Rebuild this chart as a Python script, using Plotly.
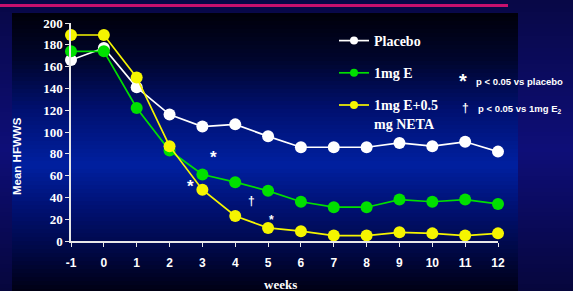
import plotly.graph_objects as go

weeks = [-1, 0, 1, 2, 3, 4, 5, 6, 7, 8, 9, 10, 11, 12]
week_labels = ["-1", "0", "1", "2", "3", "4", "5", "6", "7", "8", "9", "10", "11", "12"]
placebo = [166, 177, 141, 116, 105, 107, 96, 86, 86, 86, 90, 87, 91, 82]
e1mg = [174, 174, 122, 83, 61, 54, 46, 36, 31, 31, 38, 36, 38, 34]
e1mg_neta = [189, 189, 150, 87, 47, 23, 12, 9, 5, 5, 8, 7, 5, 7]
y_ticks = [0, 20, 40, 60, 80, 100, 120, 140, 160, 180, 200]

W, H = 573, 291
L, R, T, B = 71, 498, 23, 241

def px(x):
    return (x - L) / (R - L)

def py(y):
    return (B - y) / (B - T)

def lerp_color(stops, y):
    for (y0, c0), (y1, c1) in zip(stops, stops[1:]):
        if y0 <= y <= y1:
            t = (y - y0) / (y1 - y0) if y1 > y0 else 0
            c = [round(a + (b - a) * t) for a, b in zip(c0, c1)]
            return "rgb(%d,%d,%d)" % tuple(c)
    c = stops[-1][1]
    return "rgb(%d,%d,%d)" % tuple(c)

outer_stops = [(0, (8, 8, 70)), (150, (14, 14, 120)), (291, (6, 6, 60))]
panel_stops = [(13, (0, 0, 10)), (60, (0, 5, 45)), (110, (0, 16, 112)),
               (165, (0, 32, 160)), (210, (0, 16, 112)), (250, (0, 8, 70)), (291, (0, 0, 20))]

shapes = []
step = 4
for y0 in range(0, H, step):
    y1 = y0 + step
    shapes.append(dict(type="rect", xref="paper", yref="paper", layer="below",
                       x0=px(0), x1=px(W), y0=py(y1), y1=py(y0),
                       fillcolor=lerp_color(outer_stops, y0 + step / 2), line=dict(width=0)))
for y0 in range(13, H, step):
    y1 = min(y0 + step, H)
    shapes.append(dict(type="rect", xref="paper", yref="paper", layer="below",
                       x0=px(12), x1=px(518), y0=py(y1), y1=py(y0),
                       fillcolor=lerp_color(panel_stops, y0 + step / 2), line=dict(width=0)))
shapes.append(dict(type="line", xref="paper", yref="paper", x0=px(0), x1=px(508),
                   y0=py(5.5), y1=py(5.5), line=dict(color="#c8106e", width=3)))

fig = go.Figure()
series = [("Placebo", placebo, "#ffffff"),
          ("1mg E", e1mg, "#00e000"),
          ("1mg E+0.5<br>mg NETA", e1mg_neta, "#f5f500")]
for i, (name, vals, col) in enumerate(series):
    fig.add_trace(go.Scatter(x=weeks, y=vals, name=name, mode="lines+markers",
                             legendgroup=str(i), cliponaxis=False, showlegend=False,
                             hoverinfo="skip",
                             line=dict(color=col, width=1.7),
                             marker=dict(color=col, size=12)))
for i, (name, vals, col) in enumerate(series):
    # legend-only entry with a smaller symbol, as in the reference legend
    fig.add_trace(go.Scatter(x=[None], y=[None], name=name, mode="lines+markers",
                             legendgroup=str(i), showlegend=True,
                             line=dict(color=col, width=1.7),
                             marker=dict(color=col, size=8)))

serif = "Liberation Serif"
sans = "Liberation Sans"
ann = []
def a(x, y, text, size, font=sans, xref="x", yref="y", xanchor="center", **kw):
    ann.append(dict(x=x, y=y, xref=xref, yref=yref, text=text, showarrow=False,
                    xanchor=xanchor, yanchor="middle",
                    font=dict(family=font, size=size, color="white"), **kw))

a(3.35, 77, "<b>*</b>", 17)
a(2.65, 50, "<b>*</b>", 17)
a(4.5, 37, "<b>†</b>", 12)
a(5.1, 19, "<b>*</b>", 12)
a(px(463), py(81), "<b>*</b>", 20, xref="paper", yref="paper")
a(px(474), py(81), "<b>p &lt; 0.05 vs placebo</b>", 9.5, xref="paper", yref="paper", xanchor="left")
a(px(465), py(108), "<b>†</b>", 12, xref="paper", yref="paper")
a(px(476), py(109), "<b>p &lt; 0.05 vs 1mg E<sub>2</sub></b>", 9.5, xref="paper", yref="paper", xanchor="left")
a(px(17), py(156), "<b>Mean HFWWS</b>", 11.5, xref="paper", yref="paper", textangle=-90)
a(px(280), py(284), "<b>weeks</b>", 13, font=serif, xref="paper", yref="paper")

fig.update_layout(
    width=W, height=H,
    margin=dict(l=L, r=W - R, t=T, b=H - B, pad=0),
    paper_bgcolor="#08084e", plot_bgcolor="rgba(0,0,0,0)",
    shapes=shapes, annotations=ann,
    showlegend=True, hovermode=False,
    legend=dict(x=px(334), y=py(25), xanchor="left", yanchor="top", valign="top",
                bgcolor="rgba(0,0,0,0)", tracegroupgap=11, itemwidth=30,
                font=dict(family=serif, size=14, color="white", weight="bold")),
    xaxis=dict(range=[-1, 12], tickvals=weeks, ticktext=week_labels,
               showgrid=False, zeroline=False,
               showline=True, linecolor="#e8e8e8", linewidth=1.5,
               ticks="outside", ticklen=4, tickcolor="#e8e8e8", ticklabelstandoff=6,
               tickfont=dict(family=sans, size=12, color="white", weight="bold")),
    yaxis=dict(range=[0, 200], tickvals=y_ticks, showgrid=False, zeroline=False,
               showline=True, linecolor="#e8e8e8", linewidth=1.5,
               ticks="outside", ticklen=4, tickcolor="#e8e8e8",
               tickfont=dict(family=serif, size=13, color="white", weight="bold")),
)
fig.write_html("out.html", config={"displayModeBar": False},
               post_script="document.body.style.margin='0';document.body.style.background='#08084e';")
